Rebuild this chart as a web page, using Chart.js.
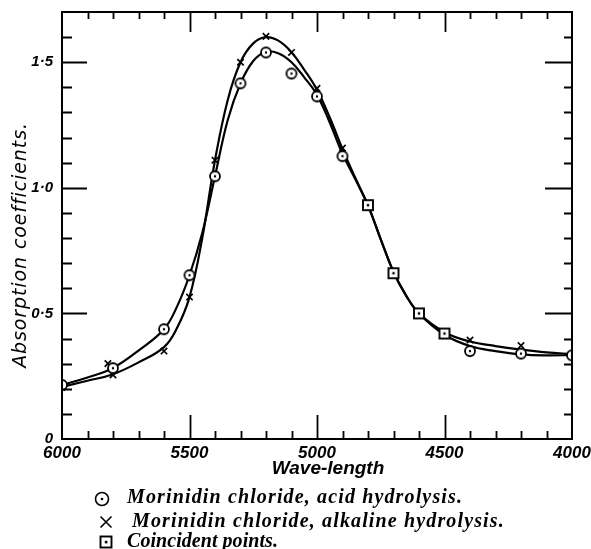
<!DOCTYPE html>
<html>
<head>
<meta charset="utf-8">
<script src="https://cdn.jsdelivr.net/npm/chart.js@4.4.1/dist/chart.umd.min.js"></script>
<style>
  html, body { margin: 0; padding: 0; background: #fff; }
  #wrap { position: relative; width: 591px; height: 549px; }
</style>
</head>
<body>
<div id="wrap"><canvas id="c" width="591" height="549"></canvas></div>
<script>
// ---- data ----
const xTickValues = [6000, 5500, 5000, 4500, 4000];
const yTickValues = [0, 0.5, 1.0, 1.5];

// smooth fitted curves (as drawn in the figure)
const acidCurveWl  = [6000, 5900, 5800, 5700, 5600, 5550, 5500, 5450, 5400, 5350, 5300, 5250, 5200, 5150, 5100, 5050, 5000, 4950, 4900, 4850, 4800, 4750, 4700, 4650, 4600, 4500, 4400, 4300, 4200, 4100, 4000];
const acidCurveVal = [0.215, 0.245, 0.283, 0.352, 0.437, 0.525, 0.652, 0.82, 1.046, 1.27, 1.416, 1.505, 1.542, 1.535, 1.50, 1.44, 1.37, 1.26, 1.135, 1.035, 0.93, 0.795, 0.665, 0.57, 0.50, 0.415, 0.37, 0.35, 0.337, 0.333, 0.334];
const alkCurveWl   = [6000, 5900, 5800, 5700, 5600, 5550, 5500, 5450, 5400, 5350, 5300, 5250, 5200, 5150, 5100, 5050, 5000, 4950, 4900, 4850, 4800, 4750, 4700, 4650, 4600, 4500, 4400, 4300, 4200, 4100, 4000];
const alkCurveVal  = [0.208, 0.232, 0.258, 0.305, 0.366, 0.44, 0.565, 0.80, 1.11, 1.35, 1.50, 1.575, 1.60, 1.585, 1.54, 1.47, 1.39, 1.28, 1.155, 1.04, 0.93, 0.795, 0.665, 0.57, 0.50, 0.425, 0.388, 0.37, 0.356, 0.345, 0.338];

// measured points
const acidWl  = [6000, 5800, 5600, 5500, 5400, 5300, 5200, 5100, 5000, 4900, 4400, 4200, 4000];
const acidVal = [0.215, 0.282, 0.437, 0.652, 1.046, 1.416, 1.539, 1.455, 1.364, 1.126, 0.35, 0.34, 0.333];
const alkWl   = [6000, 5820, 5800, 5600, 5500, 5400, 5300, 5200, 5100, 5000, 4900, 4400, 4200];
const alkVal  = [0.205, 0.30, 0.255, 0.35, 0.565, 1.11, 1.50, 1.603, 1.539, 1.396, 1.158, 0.394, 0.372];
const coinWl  = [4800, 4700, 4600, 4500];
const coinVal = [0.931, 0.66, 0.50, 0.42];

const xTitle = 'Wave-length';
const yTitle = 'Absorption coefficients.';
const legendLabels = [
  'Morinidin chloride, acid hydrolysis.',
  'Morinidin chloride, alkaline hydrolysis.',
  'Coincident points.'
];

// ---- helpers ----
const pts = (xs, ys) => xs.map((x, i) => ({ x: x, y: ys[i] }));

function circleDot(r) {
  const s = Math.ceil(2 * r + 4);
  const c = document.createElement('canvas');
  c.width = s; c.height = s;
  const g = c.getContext('2d');
  g.beginPath(); g.arc(s / 2, s / 2, r, 0, Math.PI * 2);
  g.fillStyle = '#fff'; g.fill();
  g.lineWidth = 1.8; g.strokeStyle = '#000'; g.stroke();
  g.beginPath(); g.arc(s / 2, s / 2, 1.2, 0, Math.PI * 2);
  g.fillStyle = '#000'; g.fill();
  return c;
}
function squareDot(h) {
  const s = Math.ceil(2 * h + 4);
  const c = document.createElement('canvas');
  c.width = s; c.height = s;
  const g = c.getContext('2d');
  g.fillStyle = '#fff'; g.fillRect(s / 2 - h, s / 2 - h, 2 * h, 2 * h);
  g.lineWidth = 1.9; g.strokeStyle = '#000'; g.strokeRect(s / 2 - h, s / 2 - h, 2 * h, 2 * h);
  g.fillStyle = '#000'; g.fillRect(s / 2 - 1.2, s / 2 - 1.2, 2.4, 2.4);
  return c;
}

const circImg = circleDot(5);
const sqImg = squareDot(5);

// frame, inward ticks, titles and legend
const decorPlugin = {
  id: 'decor',
  afterDraw(chart) {
    const ctx = chart.ctx, a = chart.chartArea;
    const xs = chart.scales.x, ys = chart.scales.y;
    ctx.save();
    ctx.strokeStyle = '#000';
    ctx.lineWidth = 2;
    ctx.strokeRect(a.left, a.top, a.right - a.left, a.bottom - a.top);
    ctx.lineWidth = 1.8;
    ctx.beginPath();
    for (let wl = 4100; wl < 6000; wl += 100) {
      const px = Math.round(xs.getPixelForValue(wl)) + 0.5;
      const major = wl % 500 === 0;
      ctx.moveTo(px, a.bottom); ctx.lineTo(px, a.bottom - (major ? 24 : 8));
      ctx.moveTo(px, a.top); ctx.lineTo(px, a.top + (major ? 20 : 7));
    }
    for (let k = 1; k < 17; k++) {
      const py = Math.round(ys.getPixelForValue(k / 10)) + 0.5;
      const major = k % 5 === 0;
      ctx.moveTo(a.left, py); ctx.lineTo(a.left + (major ? 25 : 10), py);
      ctx.moveTo(a.right, py); ctx.lineTo(a.right - (major ? 27 : 8), py);
    }
    ctx.stroke();

    // axis titles
    ctx.fillStyle = '#000';
    ctx.font = 'italic bold 19px "Liberation Sans"';
    ctx.textAlign = 'center';
    ctx.textBaseline = 'alphabetic';
    ctx.fillText(xTitle, 328, 474);

    ctx.save();
    ctx.translate(26, 245);
    ctx.rotate(-Math.PI / 2);
    ctx.font = 'italic 500 19px "DejaVu Sans"';
    ctx.letterSpacing = '0.9px';
    ctx.textAlign = 'center';
    ctx.fillText(yTitle, 0, 0);
    ctx.restore();

    // legend
    ctx.lineWidth = 1.6;
    ctx.beginPath(); ctx.arc(102, 499, 6.5, 0, Math.PI * 2); ctx.stroke();
    ctx.beginPath(); ctx.arc(102, 499, 1.3, 0, Math.PI * 2); ctx.fill();
    ctx.beginPath();
    ctx.moveTo(100.5, 516.5); ctx.lineTo(111.5, 527.5);
    ctx.moveTo(111.5, 516.5); ctx.lineTo(100.5, 527.5);
    ctx.stroke();
    ctx.lineWidth = 1.9;
    ctx.strokeRect(100.5, 536.5, 11, 11);
    ctx.fillRect(104.8, 540.8, 2.6, 2.6);

    const targets = [[127, 503, 336], [132, 527, 373], [127, 547, 151]];
    ctx.font = 'italic bold 20px "Liberation Serif"';
    ctx.textAlign = 'left';
    legendLabels.forEach((t, i) => {
      ctx.letterSpacing = '0px';
      const w = ctx.measureText(t).width;
      const sp = (targets[i][2] - w) / t.length;
      ctx.letterSpacing = sp.toFixed(2) + 'px';
      ctx.fillText(t, targets[i][0], targets[i][1]);
    });
    ctx.restore();
  }
};

const tickFont = { family: '"Liberation Sans"', style: 'italic', weight: 'bold' };

new Chart(document.getElementById('c'), {
  type: 'scatter',
  data: {
    datasets: [
      { label: legendLabels[0], data: pts(acidWl, acidVal), pointStyle: circImg, order: 0, showLine: false },
      { label: legendLabels[1], data: pts(alkWl, alkVal), pointStyle: 'crossRot', pointRadius: 4.5,
        borderColor: '#000', pointBorderWidth: 1.7, order: 0, showLine: false },
      { label: legendLabels[2], data: pts(coinWl, coinVal), pointStyle: sqImg, order: 0, showLine: false },
      { label: 'acid curve', data: pts(acidCurveWl, acidCurveVal), showLine: true, pointRadius: 0,
        borderColor: '#000', borderWidth: 2.2, tension: 0.4, order: 1 },
      { label: 'alkaline curve', data: pts(alkCurveWl, alkCurveVal), showLine: true, pointRadius: 0,
        borderColor: '#000', borderWidth: 2.2, tension: 0.4, order: 1 }
    ]
  },
  options: {
    responsive: false,
    animation: false,
    devicePixelRatio: 1,
    layout: { padding: { left: 0, right: 19, top: 12, bottom: 86 } },
    plugins: { legend: { display: false }, tooltip: { enabled: false } },
    scales: {
      x: {
        type: 'linear', reverse: true, min: 4000, max: 6000,
        grid: { display: false, drawTicks: false },
        border: { display: false },
        ticks: {
          stepSize: 100, autoSkip: false, maxRotation: 0, padding: 4,
          color: '#000', font: Object.assign({ size: 17 }, tickFont),
          callback: v => xTickValues.includes(v) ? String(v) : ''
        },
        afterFit: s => { s.height = 24; s.paddingLeft = 0; s.paddingRight = 0; }
      },
      y: {
        type: 'linear', min: 0, max: 1.7,
        grid: { display: false, drawTicks: false },
        border: { display: false },
        ticks: {
          stepSize: 0.1, autoSkip: false, padding: 9,
          color: '#000', font: Object.assign({ size: 15 }, tickFont),
          callback: v => {
            const m = yTickValues.find(t => Math.abs(t - v) < 1e-6);
            if (m === undefined) return '';
            return m === 0 ? '0' : m.toFixed(1).replace('.', '\u00B7');
          }
        },
        afterFit: s => { s.width = 62; s.paddingTop = 0; s.paddingBottom = 0; }
      }
    }
  },
  plugins: [decorPlugin]
});
</script>
</body>
</html>
